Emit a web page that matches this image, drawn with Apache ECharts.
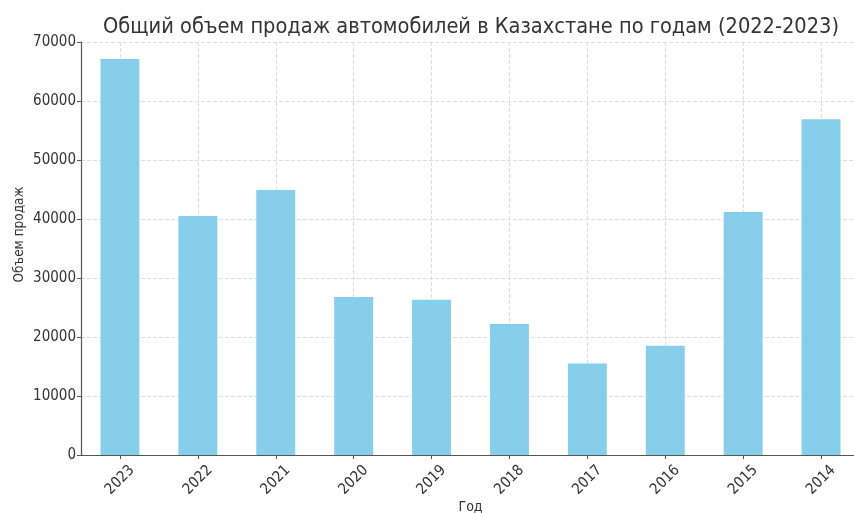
<!DOCTYPE html>
<html>
<head>
<meta charset="utf-8">
<script src="https://cdn.jsdelivr.net/npm/echarts@6/dist/echarts.min.js"></script>
<style>
html,body{margin:0;padding:0;background:#fff;}
#c{width:854px;height:513px;}
</style>
</head>
<body>
<div id="c"></div>
<script>
const titleText = 'Общий объем продаж автомобилей в Казахстане по годам (2022-2023)';
const years = ['2023','2022','2021','2020','2019','2018','2017','2016','2015','2014'];
const sales = [67100, 40500, 44900, 26800, 26300, 22200, 15500, 18500, 41200, 56900];
const yTicks = [0, 10000, 20000, 30000, 40000, 50000, 60000, 70000];
const xName = 'Год';
const yName = 'Объем продаж';

const font = '"DejaVu Sans Condensed", "DejaVu Sans", sans-serif';
const chart = echarts.init(document.getElementById('c'), null, {renderer: 'canvas'});
chart.setOption({
  animation: false,
  backgroundColor: '#ffffff',
  title: {
    text: titleText,
    left: 466,
    top: 11,
    textAlign: 'center',
    textStyle: {fontFamily: font, fontSize: 21.6, fontWeight: 'normal', color: '#333333'}
  },
  grid: {left: 81, top: 42, width: 779, height: 413, containLabel: false, outerBoundsMode: 'none'},
  xAxis: {
    type: 'category',
    data: years,
    name: xName,
    nameLocation: 'middle',
    nameGap: 45,
    nameMoveOverlap: false,
    nameTextStyle: {fontFamily: font, fontSize: 14, color: '#333333'},
    axisLine: {show: true, lineStyle: {color: '#555555', width: 1.2}},
    axisTick: {show: true, alignWithLabel: true, length: 4, lineStyle: {color: '#555555'}},
    axisLabel: {rotate: 45, align: 'center', verticalAlign: 'middle', fontFamily: font, fontSize: 15, color: '#333333', margin: 25},
    splitLine: {show: true, alignWithLabel: true, lineStyle: {color: '#dddddd', type: 'dashed', width: 1}},
  },
  yAxis: {
    type: 'value',
    min: yTicks[0],
    max: yTicks[yTicks.length - 1],
    interval: 10000,
    name: yName,
    nameLocation: 'middle',
    nameGap: 55,
    nameMoveOverlap: false,
    nameTextStyle: {fontFamily: font, fontSize: 13.5, color: '#333333', padding: [0, 0, 0, 28]},
    axisLine: {show: true, lineStyle: {color: '#555555', width: 1.2}},
    axisTick: {show: true, length: 4, lineStyle: {color: '#555555'}},
    axisLabel: {fontFamily: font, fontSize: 15, color: '#333333', margin: 5, formatter: v => String(v)},
    splitLine: {show: true, lineStyle: {color: '#dddddd', type: 'dashed', width: 1}}
  },
  series: [{
    type: 'bar',
    data: sales,
    barWidth: '50%',
    itemStyle: {color: '#87CEEB'},
    z: 3
  }]
});
</script>
</body>
</html>
